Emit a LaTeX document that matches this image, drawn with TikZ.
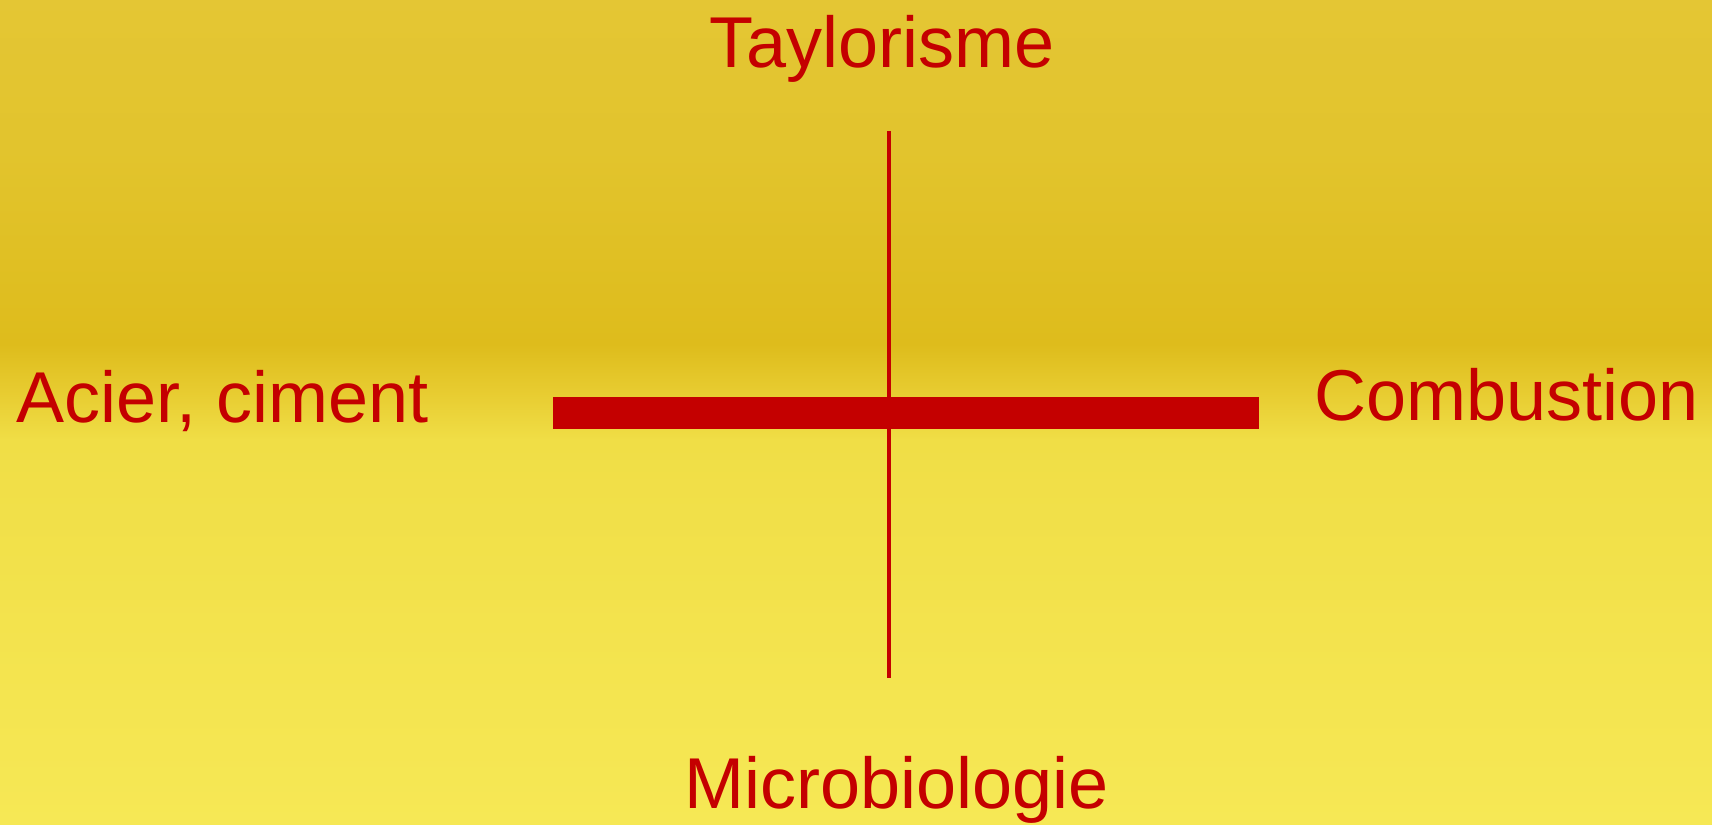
\documentclass[tikz,border=0pt]{standalone}
\usepackage{fontspec}
\setmainfont{Liberation Sans}
\usepackage{xcolor}
\usepackage{tikz}
\usetikzlibrary{positioning, calc}
\definecolor{inkred}{RGB}{196,0,0}
\definecolor{papertop}{RGB}{228,198,52}
\definecolor{paperhigh}{RGB}{226,196,45}
\definecolor{paperband}{RGB}{222,188,28}
\definecolor{papermid}{RGB}{232,205,50}
\definecolor{paperlow}{RGB}{240,222,70}
\definecolor{paperbottom}{RGB}{246,232,85}
\pgfdeclareverticalshading{paper}{100bp}{
  color(0bp)=(paperbottom); color(25bp)=(paperbottom);
  color(48.3bp)=(paperlow); color(51bp)=(papermid);
  color(54.1bp)=(paperband); color(65.9bp)=(paperhigh);
  color(75bp)=(papertop); color(100bp)=(papertop)}
\tikzset{
  label text/.style={
    text=inkred, inner sep=0pt, font=\fontsize{72}{80}\selectfont
  },
  axis line/.style={draw=inkred, line width=4.5pt},
  axis bar/.style={draw=inkred, line width=32pt},
}

\begin{document}
\begin{tikzpicture}[x=1pt, y=-1pt]
  \shade[shading=paper] (0,0) rectangle (1712,824);
  \useasboundingbox (0,0) rectangle (1712,824);

  \coordinate (top) at (889,131);
  \coordinate (bottom) at (889,678);
  \coordinate (left) at (553,413);
  \coordinate (right) at (1259,413);

  \node[label text, anchor=base] (taylor) at (882,68) {Taylorisme};
  \node[label text, anchor=base] (micro) at (897,808) {Microbiologie};
  \node[label text, anchor=base west] (acier) at (16,422) {Acier, ciment};
  \node[label text, anchor=base east] (combust) at (1699,420) {Combustion};

  \draw[axis line] (top) -- (bottom);
  \draw[axis bar] (left) -- (right);
\end{tikzpicture}
\end{document}
